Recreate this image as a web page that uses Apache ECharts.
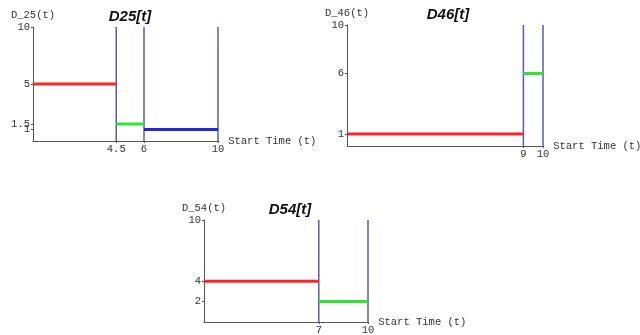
<!DOCTYPE html>
<html><head><meta charset="utf-8">
<script src="https://cdn.jsdelivr.net/npm/echarts@6/dist/echarts.min.js"></script>
<style>html,body{margin:0;padding:0;background:#fff}#c{width:640px;height:335px}</style>
</head><body><div id="c"></div>
<script>
// Chart titles and axis names
const titles = ['D25[t]', 'D46[t]', 'D54[t]'];
const yNames = ['D_25(t)', 'D_46(t)', 'D_54(t)'];
const xName = 'Start Time (t)';

// Segment data: start, end, value for each piecewise segment
const d25Start = [0, 4.5, 6];
const d25End = [4.5, 6, 10];
const d25Value = [5, 1.5, 1];
const d25Vlines = [4.5, 6, 10];
const d25XTicks = [4.5, 6, 10];
const d25YTicks = [1, 5, 10];
const d25YTicksExtra = [1.5];

const d46Start = [0, 9];
const d46End = [9, 10];
const d46Value = [1, 6];
const d46Vlines = [9, 10];
const d46XTicks = [9, 10];
const d46YTicks = [1, 6, 10];

const d54Start = [0, 7];
const d54End = [7, 10];
const d54Value = [4, 2];
const d54Vlines = [7, 10];
const d54XTicks = [7, 10];
const d54YTicks = [2, 4, 10];

const segColors = ['#ff2424', '#2ee82e', '#2424e6'];
const vColor = '#5a5ab4';
const mono = '"Liberation Mono","DejaVu Sans Mono",monospace';
const fs = 10.5;

const charts = [
  {s: d25Start, e: d25End, v: d25Value, vl: d25Vlines, xt: d25XTicks, yt: d25YTicks, grid: {left: 33, top: 27, width: 185, height: 114}, tl: 125},
  {s: d46Start, e: d46End, v: d46Value, vl: d46Vlines, xt: d46XTicks, yt: d46YTicks, grid: {left: 347, top: 25, width: 196, height: 121}, tl: 443},
  {s: d54Start, e: d54End, v: d54Value, vl: d54Vlines, xt: d54XTicks, yt: d54YTicks, grid: {left: 204, top: 220, width: 164, height: 102}, tl: 285}
];

const grid = [], xAxis = [], yAxis = [], series = [], title = [];
charts.forEach((c, i) => {
  grid.push(Object.assign({containLabel: false, outerBoundsMode: 'none'}, c.grid));
  title.push({text: titles[i], left: c.tl, top: c.grid.top - 23, textAlign: 'center',
    textStyle: {fontFamily: '"Liberation Sans",Arial,sans-serif', fontStyle: 'italic', fontWeight: 'bold', fontSize: 15, color: '#111'}});
  xAxis.push({type: 'value', gridIndex: i, min: 0, max: 10,
    name: xName, nameLocation: 'end', nameGap: 8,
    nameTextStyle: {fontFamily: mono, fontSize: fs, color: '#333', verticalAlign: 'middle'},
    axisLine: {show: true, lineStyle: {color: '#555', width: 1}},
    axisTick: {show: true, length: 2, customValues: c.xt, lineStyle: {color: '#555'}},
    axisLabel: {customValues: c.xt, fontFamily: mono, fontSize: fs, color: '#333', margin: 3, hideOverlap: false, showMinLabel: true, showMaxLabel: true},
    splitLine: {show: false}});
  yAxis.push({type: 'value', gridIndex: i, min: 0, max: 10,
    name: yNames[i], nameLocation: 'end', nameGap: 6,
    nameTextStyle: {fontFamily: mono, fontSize: fs, color: '#333', align: 'center', padding: [0, 0, 0, 0]},
    axisLine: {show: true, lineStyle: {color: '#555', width: 1}},
    axisTick: {show: true, length: 2, customValues: c.yt, lineStyle: {color: '#555'}},
    axisLabel: {customValues: c.yt, fontFamily: mono, fontSize: fs, color: '#333', margin: 3, hideOverlap: false, showMinLabel: true, showMaxLabel: true},
    splitLine: {show: false}});
  c.vl.forEach(x => {
    series.push({type: 'line', xAxisIndex: i, yAxisIndex: i, data: [[x, 0], [x, 10]],
      symbol: 'none', lineStyle: {color: vColor, width: 1.5}, silent: true, z: 2});
  });
  c.s.forEach((s, k) => {
    series.push({type: 'line', xAxisIndex: i, yAxisIndex: i, data: [[s, c.v[k]], [c.e[k], c.v[k]]],
      symbol: 'none', lineStyle: {color: segColors[k], width: 3}, silent: true, z: 3});
  });
});
// extra overlapping tick label (1.5) on the first chart
yAxis.push({type: 'value', gridIndex: 0, min: 0, max: 10, position: 'left',
  axisLine: {show: false},
  axisTick: {show: true, length: 2, customValues: d25YTicksExtra, lineStyle: {color: '#555'}},
  axisLabel: {customValues: d25YTicksExtra, fontFamily: mono, fontSize: fs, color: '#333', margin: 3},
  splitLine: {show: false}});

const chart = echarts.init(document.getElementById('c'), null, {renderer: 'canvas'});
chart.setOption({animation: false, backgroundColor: '#fff', title, grid, xAxis, yAxis, series});
</script>
</body></html>
